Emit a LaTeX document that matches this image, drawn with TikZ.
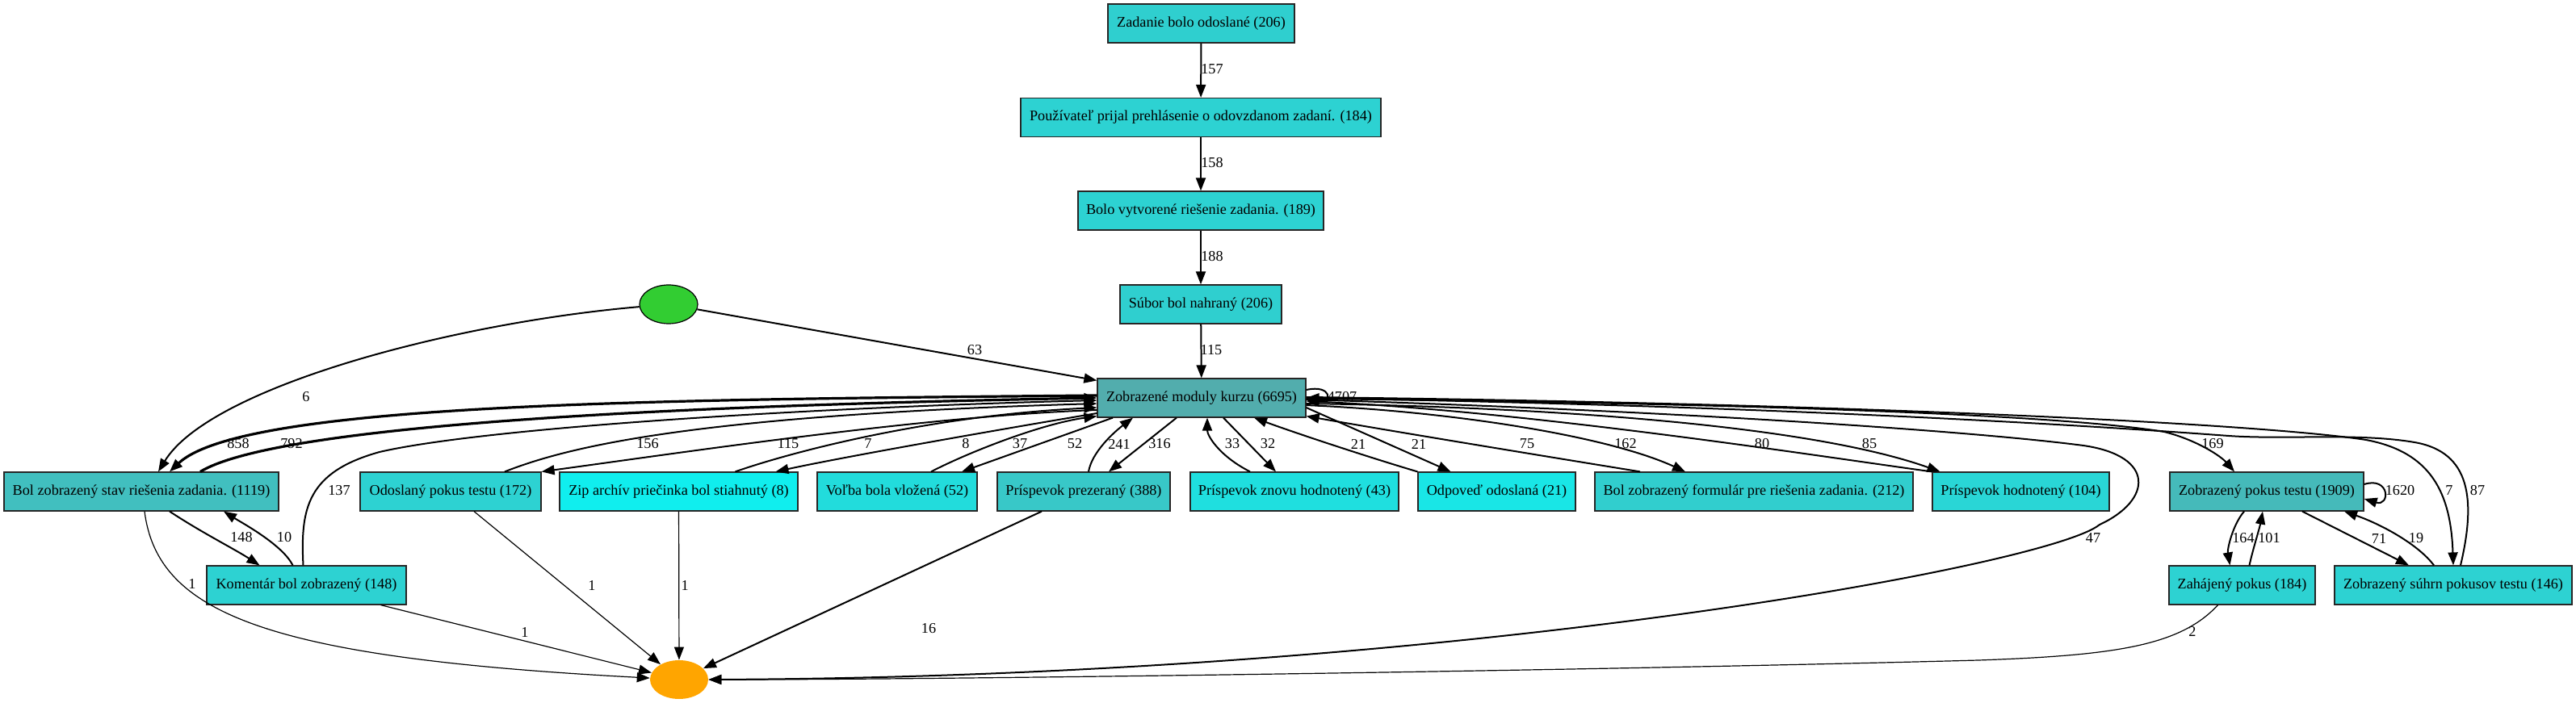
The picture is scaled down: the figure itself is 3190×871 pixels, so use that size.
\documentclass[tikz,border=0pt]{standalone}
\usepackage{fontspec}
\setmainfont{Liberation Serif}
\usepackage{tikz}
\usetikzlibrary{arrows.meta}
\usetikzlibrary{shapes.geometric}
\tikzset{>={Triangle[length=8pt,width=6pt]}}
\usepackage{xcolor}
\definecolor{cmods}{HTML}{52ADAD}
\definecolor{cpokus}{HTML}{45BABA}
\definecolor{cstav}{HTML}{41BFBF}
\definecolor{cprezer}{HTML}{38C8C8}
\definecolor{cform}{HTML}{31CECE}
\definecolor{cmid}{HTML}{2FCFCF}
\definecolor{clow}{HTML}{2DD2D2}
\definecolor{chodn}{HTML}{29D6D6}
\definecolor{cvolba}{HTML}{22DCDC}
\definecolor{cznovu}{HTML}{1FDFDF}
\definecolor{codpov}{HTML}{19E6E6}
\definecolor{czip}{HTML}{10EEEE}
\definecolor{cstart}{HTML}{32CD32}
\definecolor{cend}{HTML}{FFA500}

\begin{document}
\begin{tikzpicture}[x=0.5pt,y=-0.5pt,
    box/.style={draw=black!85,line width=0.6pt,minimum height=24pt,inner xsep=0pt,font=\fontsize{9.1}{11}\selectfont},
    lbl/.style={inner sep=0pt,font=\fontsize{9.1}{11}\selectfont},
    arrow/.style={->,line width=1pt},
    heavy/.style={line width=1.6pt},
    light/.style={line width=0.6pt},
    dx/.style={shift={(#1,0)}},
    dy/.style={shift={(0,#1)}}]
    \message{Process map^^J}
    \useasboundingbox (0,0) rectangle (3190,871);

    \node[box,fill=cmid,minimum width=115.5pt] (sent) at (1487.5,29) {Zadanie bolo odoslané (206)};
    \node[box,fill=clow,minimum width=223pt] (accept) at (1487,145.5) {Používateľ prijal prehlásenie o odovzdanom zadaní. (184)};
    \node[box,fill=clow,minimum width=152pt] (created) at (1487,261) {Bolo vytvorené riešenie zadania. (189)};
    \node[box,fill=cmid,minimum width=100pt] (upload) at (1487,377) {Súbor bol nahraný (206)};
    \node[box,fill=cmods,minimum width=129pt] (mods) at (1488,493) {Zobrazené moduly kurzu (6695)};

    \node[box,fill=cstav,minimum width=170pt] (stav) at (175,609) {Bol zobrazený stav riešenia zadania. (1119)};
    \node[box,fill=clow,minimum width=112pt] (odosl) at (558,609) {Odoslaný pokus testu (172)};
    \node[box,fill=czip,minimum width=147.5pt] (zip) at (840.5,609) {Zip archív priečinka bol stiahnutý (8)};
    \node[box,fill=cvolba,minimum width=99pt] (volba) at (1111,609) {Voľba bola vložená (52)};
    \node[box,fill=cprezer,minimum width=107pt] (prezer) at (1342,609) {Príspevok prezeraný (388)};
    \node[box,fill=cznovu,minimum width=129pt] (znovu) at (1603,609) {Príspevok znovu hodnotený (43)};
    \node[box,fill=codpov,minimum width=97.5pt] (odpov) at (1853.5,609) {Odpoveď odoslaná (21)};
    \node[box,fill=cform,minimum width=197pt] (formular) at (2172,609) {Bol zobrazený formulár pre riešenia zadania. (212)};
    \node[box,fill=chodn,minimum width=109.5pt] (hodn) at (2502.5,609) {Príspevok hodnotený (104)};
    \node[box,fill=cpokus,minimum width=120pt] (pokus) at (2807,609) {Zobrazený pokus testu (1909)};

    \node[box,fill=clow,minimum width=123.5pt] (coment) at (379.5,725) {Komentár bol zobrazený (148)};
    \node[box,fill=clow,minimum width=90.5pt] (zahaj) at (2776.5,725) {Zahájený pokus (184)};
    \node[box,fill=clow,minimum width=147pt] (suhrn) at (3038,725) {Zobrazený súhrn pokusov testu (146)};

    \node[ellipse,draw=black,line width=0.6pt,fill=cstart,minimum width=36pt,minimum height=24pt,inner sep=0pt] (start) at (828,377) {};
    \node[ellipse,fill=cend,minimum width=36pt,minimum height=24pt,inner sep=0pt] (finish) at (841,842) {};

    \draw[arrow] (sent) -- (accept) node[lbl] at (1501,86) {157};
    \draw[arrow] (accept) -- (created) node[lbl] at (1501,202) {158};
    \draw[arrow] (created) -- (upload) node[lbl] at (1501,318) {188};
    \draw[arrow] (upload) -- (mods) node[lbl] at (1500,434) {115};

    \draw[arrow] (start) -- ([dy=3]mods.north west) node[lbl] at (1207,434) {63};
    \draw[arrow] (start) .. controls (560,400) and (260,480) .. ([dx=21]stav.north) node[lbl] at (379,492) {6};

    \draw[arrow] ([dy=-10]mods.east) .. controls (1650,476) and (1650,500) .. ([dy=1]mods.east) node[lbl] at (1662,492) {4707};
    \draw[arrow,heavy] ([dy=-3]mods.west) .. controls (800,495) and (300,500) .. ([dx=35]stav.north) node[lbl] at (295,550) {858};
    \draw[arrow,heavy] ([dx=73]stav.north) .. controls (330,535) and (700,505) .. (mods.west) node[lbl] at (361,550) {792};
    \draw[arrow] ([dx=-4]coment.north) .. controls (372,630) and (380,585) .. (470,560) .. controls (600,530) and (1000,505) .. ([dy=3]mods.west) node[lbl] at (420,608) {137};
    \draw[arrow] ([dx=67]odosl.north) .. controls (700,555) and (850,515) .. ([dy=7]mods.west) node[lbl] at (802,550) {156};
    \draw[arrow] ([dy=15]mods.west) .. controls (1150,515) and (850,560) .. (odosl.north east) node[lbl] at (976,550) {115};
    \draw[arrow] ([dx=70]zip.north) .. controls (980,560) and (1150,515) .. ([dy=12]mods.west) node[lbl] at (1075,550) {7};
    \draw[arrow] ([dy=19]mods.west) .. controls (1250,530) and (1050,565) .. ([dx=120]zip.north) node[lbl] at (1196,550) {8};
    \draw[arrow] ([dx=42]volba.north) .. controls (1200,560) and (1290,525) .. ([dy=-2]mods.south west) node[lbl] at (1263,550) {37};
    \draw[arrow] ([dx=-110]mods.south) -- ([dx=80]volba.north) node[lbl] at (1331,550) {52};
    \draw[arrow] ([dx=6]prezer.north) .. controls (1352,560) and (1380,535) .. ([dx=-85]mods.south) node[lbl] at (1386,550) {241};
    \draw[arrow] ([dx=-31]mods.south) -- ([dx=31]prezer.north) node[lbl] at (1436,550) {316};
    \draw[arrow] ([dx=-55]znovu.north) .. controls (1510,565) and (1495,540) .. ([dx=7]mods.south) node[lbl] at (1526,550) {33};
    \draw[arrow] ([dx=27]mods.south) -- ([dx=-23]znovu.north) node[lbl] at (1570,550) {32};
    \draw[arrow] (odpov.north west) .. controls (1690,565) and (1600,535) .. ([dx=65]mods.south) node[lbl] at (1682,550) {21};
    \draw[arrow] ([dy=12]mods.east) -- ([dx=-57]odpov.north) node[lbl] at (1757,550) {21};
    \draw[arrow] ([dx=-141]formular.north) .. controls (1850,555) and (1700,530) .. ([dy=-2]mods.south east) node[lbl] at (1891,550) {75};
    \draw[arrow] ([dy=9]mods.east) .. controls (1800,510) and (1990,540) .. ([dx=-85]formular.north) node[lbl] at (2013,550) {162};
    \draw[arrow] (hodn.north west) .. controls (2250,565) and (1900,510) .. ([dy=4]mods.east) node[lbl] at (2182,550) {80};
    \draw[arrow] ([dy=7]mods.east) .. controls (1950,505) and (2250,530) .. ([dx=-100]hodn.north) node[lbl] at (2315,550) {85};
    \draw[arrow] ([dy=2]mods.east) .. controls (2100,510) and (2450,535) .. (2580,552) .. controls (2670,565) and (2665,620) .. (2600,650) .. controls (2540,700) and (1800,838) .. (finish.east) node[lbl] at (2592,667) {47};
    \draw[arrow] ([dy=1]mods.east) .. controls (2200,500) and (2560,515) .. (2680,535) .. controls (2720,545) and (2750,565) .. ([dx=-40]pokus.north) node[lbl] at (2740,550) {169};
    \draw[arrow] ([dy=-1]mods.east) .. controls (2300,500) and (2800,525) .. (2930,545) .. controls (3010,560) and (3035,610) .. (suhrn.north) node[lbl] at (3033,608) {7};
    \draw[arrow] ([dx=9]suhrn.north) .. controls (3066,620) and (3060,560) .. (2990,548) .. controls (2920,536) and (2830,545) .. (2760,540) .. controls (2690,535) and (2300,505) .. (mods.east) node[lbl] at (3068,608) {87};

    \draw[arrow] ([dy=-9]pokus.east) .. controls (2960,590) and (2960,628) .. ([dy=9]pokus.east) node[lbl] at (2972,608) {1620};
    \draw[arrow] ([dx=-28]pokus.south) .. controls (2765,650) and (2758,680) .. ([dx=-15]zahaj.north) node[lbl] at (2778,667) {164};
    \draw[arrow] ([dx=9]zahaj.north) .. controls (2790,680) and (2798,655) .. ([dx=-5]pokus.south) node[lbl] at (2810,667) {101};
    \draw[arrow] ([dx=44]pokus.south) -- ([dx=-55]suhrn.north) node[lbl] at (2946,667) {71};
    \draw[arrow] ([dx=-24]suhrn.north) .. controls (2995,675) and (2950,650) .. ([dx=96]pokus.south) node[lbl] at (2992,667) {19};
    \draw[arrow,light] ([dx=-30]zahaj.south) .. controls (2700,800) and (2620,812) .. (2450,818) .. controls (2000,830) and (1200,842) .. (finish.east) node[lbl] at (2715,782) {2};

    \draw[arrow] ([dx=35]stav.south) .. controls (250,660) and (290,680) .. ([dx=-58]coment.north) node[lbl] at (299,666) {148};
    \draw[arrow] ([dx=-17]coment.north) .. controls (350,675) and (300,648) .. ([dx=102]stav.south) node[lbl] at (352,666) {10};
    \draw[arrow,light] ([dx=4]stav.south) .. controls (195,760) and (330,815) .. (finish) node[lbl] at (238,723) {1};
    \draw[arrow,light] ([dx=92]coment.south) -- (finish) node[lbl] at (650,783) {1};
    \draw[arrow,light] ([dx=29]odosl.south) -- (finish) node[lbl] at (733,725) {1};
    \draw[arrow,light] (zip) -- (finish) node[lbl,anchor=west] at (843,725) {1};
    \draw[arrow] ([dx=-52]prezer.south) -- (finish) node[lbl] at (1150,779) {16};

    \end{tikzpicture}
\end{document}
